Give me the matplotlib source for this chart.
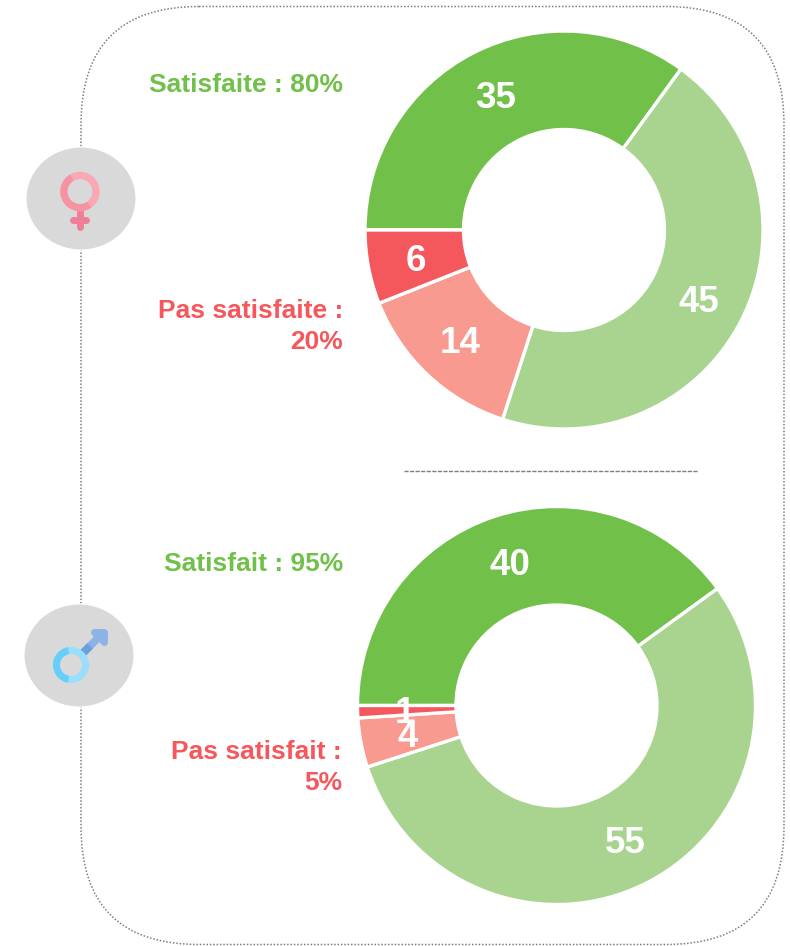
"""Satisfaction by gender: two donuts with gender icons on a dotted frame."""
import matplotlib
matplotlib.use("Agg")
import matplotlib.pyplot as plt
from matplotlib.patches import Circle, Ellipse, FancyBboxPatch, Polygon, Wedge

W, H = 790, 946

women_values = [35, 45, 14, 6]
men_values = [40, 55, 4, 1]
women_labels = ["Satisfaite : 80%", "Pas satisfaite :\n20%"]
men_labels = ["Satisfait : 95%", "Pas satisfait :\n5%"]

GREEN = "#70C04A"
LIGHT_GREEN = "#A9D48F"
SALMON = "#F89A90"
RED = "#F4575C"
GREY = "#D9D9D9"
slice_colors = [GREEN, LIGHT_GREEN, SALMON, RED]

plt.rcParams["font.family"] = ["Liberation Sans", "DejaVu Sans"]


def donut(fig, values, cx, cy, r):
    ax = fig.add_axes([(cx - r) / W, 1 - (cy + r) / H, 2 * r / W, 2 * r / H])
    _, _, pct = ax.pie(values, colors=slice_colors, startangle=180, counterclock=False, radius=1.0,
                       autopct="%.0f", pctdistance=0.76,
                       wedgeprops=dict(width=0.495, edgecolor="white", linewidth=2.4),
                       textprops=dict(color="white", fontsize=26.5, fontweight="bold"))
    # numbers sit a little lower than the slice centre
    for t in pct:
        x, y = t.get_position()
        t.set_position((x, y - 3.5 / r))
    ax.set_xlim(-1, 1)
    ax.set_ylim(-1, 1)
    ax.patch.set_alpha(0)
    for art in ax.patches:
        art.set_clip_on(False)


def main():
    fig = plt.figure(figsize=(W / 100, H / 100), dpi=100)
    # pixel canvas for the frame, icons and side text
    bg = fig.add_axes([0, 0, 1, 1])
    bg.set_xlim(0, W)
    bg.set_ylim(H, 0)
    bg.axis("off")

    bg.add_patch(FancyBboxPatch((81 + 118, 6.5 + 118), 703 - 236, 938 - 236,
                                boxstyle="round,pad=118,rounding_size=118",
                                fill=False, edgecolor="#7F7F7F", linewidth=1.1,
                                linestyle=(0, (1, 1.2))))

    # gender circles sit on the frame
    bg.add_patch(Ellipse((81, 198.5), 110, 103, facecolor=GREY, edgecolor="white", lw=0.8, zorder=3))
    bg.add_patch(Ellipse((79, 655.5), 110, 103, facecolor=GREY, edgecolor="white", lw=0.8, zorder=3))

    # female icon
    bg.plot([79.5, 79.5], [208, 227], color="#EE7F97", lw=5, solid_capstyle="round", zorder=4)
    bg.plot([73, 86], [220, 220], color="#EE7F97", lw=5, solid_capstyle="round", zorder=4)
    bg.add_patch(Circle((80, 191.5), 19.7, facecolor="#FAA9B4", edgecolor="none", zorder=5))
    bg.add_patch(Wedge((80, 191.5), 19.7, 55, 240, width=7.5, facecolor="#F593A2", edgecolor="none", zorder=6))
    bg.add_patch(Circle((80, 191.5), 12.4, facecolor=GREY, edgecolor="none", zorder=6))

    # male icon
    bg.plot([82, 100], [654, 636], color="#8DB3E6", lw=5.6, solid_capstyle="butt", zorder=4)
    bg.plot([82, 90], [654, 646], color="#6A9FE0", lw=5.6, solid_capstyle="butt", zorder=4.5)
    bg.add_patch(Polygon([(94, 632), (104, 632), (104, 642)], closed=True, facecolor="#8DB3E6",
                         edgecolor="#8DB3E6", lw=5, joinstyle="round", zorder=4))
    bg.add_patch(Circle((71, 665), 18, facecolor="#99DEFD", edgecolor="none", zorder=5))
    bg.add_patch(Wedge((71, 665), 18, 100, 260, width=7.5, facecolor="#66CEFB", edgecolor="none", zorder=6))
    bg.add_patch(Circle((71, 665), 11, facecolor=GREY, edgecolor="none", zorder=6))

    # separator
    bg.plot([404, 698], [471, 471], color="#7F7F7F", lw=1.0, linestyle=(0, (3, 1)))

    # side labels
    kw = dict(ha="right", fontsize=19, fontweight="bold", linespacing=1.36)
    bg.text(343, 85, women_labels[0], color=GREEN, va="center", **kw)
    bg.text(343, 326.5, women_labels[1], color=RED, va="center", **kw)
    bg.text(343, 564, men_labels[0], color=GREEN, va="center", **kw)
    bg.text(342, 767.5, men_labels[1], color=RED, va="center", **kw)

    donut(fig, women_values, 564, 230, 199)
    donut(fig, men_values, 556.5, 705.5, 199)

    fig.savefig("out.png", dpi=100)
    plt.close(fig)


if __name__ == "__main__":
    main()
